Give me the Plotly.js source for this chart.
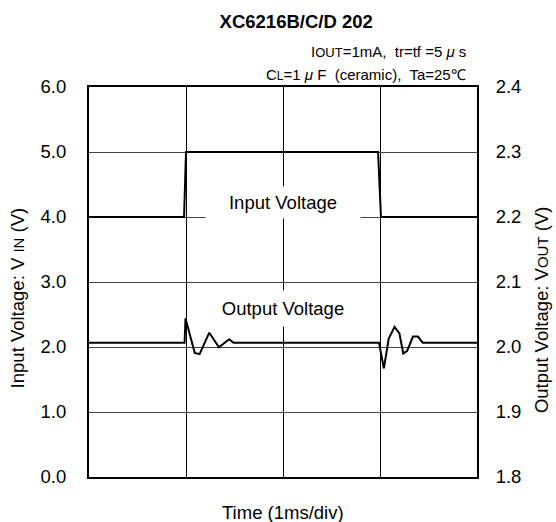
<!DOCTYPE html>
<html>
<head>
<meta charset="utf-8">
<script src="https://cdn.plot.ly/plotly-3.0.1.min.js"></script>
<style>html,body{margin:0;padding:0;background:#fff;}#chart{width:556px;height:522px;}</style>
</head>
<body>
<div id="chart"></div>
<script>
// Time axis (ms), 1 ms per division
const timeIn = [0, 0.98, 1.0, 2.98, 3.01, 4];
const vIn = [4.0, 4.0, 5.0, 5.0, 4.0, 4.0];

const timeOut = [0, 0.985, 0.995, 1.09, 1.14, 1.24, 1.34, 1.445, 1.49, 2.99, 3.04, 3.09, 3.15, 3.2, 3.24, 3.28, 3.34, 3.39, 3.44, 4];
const vOut = [2.0066, 2.0066, 2.044, 1.991, 1.989, 2.022, 1.9995, 2.012, 2.0066, 2.0066, 1.967, 2.013, 2.031, 2.021, 1.990, 1.994, 2.016, 2.016, 2.0066, 2.0066];

const leftTicks = [0, 1, 2, 3, 4, 5, 6];
const rightTicks = [1.8, 1.9, 2.0, 2.1, 2.2, 2.3, 2.4];

const FONT = "Arial, 'Liberation Sans', sans-serif";

const traces = [
  {x: timeIn, y: vIn, type: 'scatter', mode: 'lines', line: {color: '#000', width: 2}, yaxis: 'y', hoverinfo: 'skip'},
  {x: timeOut, y: vOut, type: 'scatter', mode: 'lines', line: {color: '#000', width: 2}, yaxis: 'y2', hoverinfo: 'skip'}
];

const layout = {
  width: 556, height: 522,
  margin: {l: 89, r: 79, t: 87, b: 45},
  paper_bgcolor: '#fff', plot_bgcolor: '#fff',
  showlegend: false,
  font: {family: FONT, size: 18.5, color: '#000'},
  title: {text: '<b>XC6216B/C/D 202</b>', font: {family: FONT, size: 18.5, color: '#000'},
          xref: 'paper', x: 0.534, xanchor: 'center', yref: 'container', y: 0.958, yanchor: 'middle'},
  xaxis: {range: [0, 4], dtick: 1, tick0: 0, showticklabels: false, ticks: '',
          showgrid: true, gridcolor: '#000', gridwidth: 1, zeroline: false,
          showline: true, linecolor: '#000', linewidth: 2, mirror: true, fixedrange: true},
  yaxis: {range: [0, 6], tickvals: leftTicks, tickformat: '.1f', ticks: '', ticklabelstandoff: 17,
          showgrid: true, gridcolor: '#444', gridwidth: 1, zeroline: false,
          showline: true, linecolor: '#000', linewidth: 2, mirror: true, fixedrange: true,
          tickfont: {family: FONT, size: 18.5, color: '#000'}},
  yaxis2: {range: [1.8, 2.4], tickvals: rightTicks, tickformat: '.1f', ticks: '', ticklabelstandoff: 13,
           overlaying: 'y', side: 'right', showgrid: false, zeroline: false,
           showline: true, linecolor: '#000', linewidth: 2, fixedrange: true,
           tickfont: {family: FONT, size: 18.5, color: '#000'}},
  annotations: [
    {text: 'I<span style="font-size:13px">OUT</span>=1mA,  tr=tf =5 <i>μ</i> s', xref: 'paper', yref: 'paper',
     x: 0.977, y: 1.092, xanchor: 'right', yanchor: 'middle', showarrow: false, font: {family: FONT, size: 15, color: '#000'}},
    {text: 'C<span style="font-size:12px">L</span>=1 <i>μ</i> F  (ceramic),  Ta=25℃', xref: 'paper', yref: 'paper',
     x: 0.977, y: 1.031, xanchor: 'right', yanchor: 'middle', showarrow: false, font: {family: FONT, size: 15, color: '#000'}},
    {text: 'Input Voltage', xref: 'x', yref: 'y', x: 2.0, y: 4.23, showarrow: false,
     bgcolor: '#fff', width: 152, height: 29, font: {family: FONT, size: 18.5, color: '#000'}},
    {text: 'Output Voltage', xref: 'x', yref: 'y', x: 2.0, y: 2.6, showarrow: false,
     bgcolor: '#fff', width: 152, height: 33, font: {family: FONT, size: 18.5, color: '#000'}},
    {text: 'Time (1ms/div)', xref: 'paper', yref: 'paper', x: 0.5, y: 0, yanchor: 'middle', yshift: -35,
     showarrow: false, font: {family: FONT, size: 18.5, color: '#000'}},
    {text: 'Input Voltage: V <span style="font-size:15px">IN</span> (V)', xref: 'paper', yref: 'paper',
     x: 0, y: 0.458, xanchor: 'center', yanchor: 'middle', xshift: -72, textangle: -90,
     showarrow: false, font: {family: FONT, size: 18.5, color: '#000'}},
    {text: 'Output Voltage: V<span style="font-size:15px">OUT</span> (V)', xref: 'paper', yref: 'paper',
     x: 1, y: 0.428, xanchor: 'center', yanchor: 'middle', xshift: 64, textangle: -90,
     showarrow: false, font: {family: FONT, size: 18.5, color: '#000'}}
  ]
};

Plotly.newPlot('chart', traces, layout, {staticPlot: true, displayModeBar: false});
</script>
</body>
</html>
